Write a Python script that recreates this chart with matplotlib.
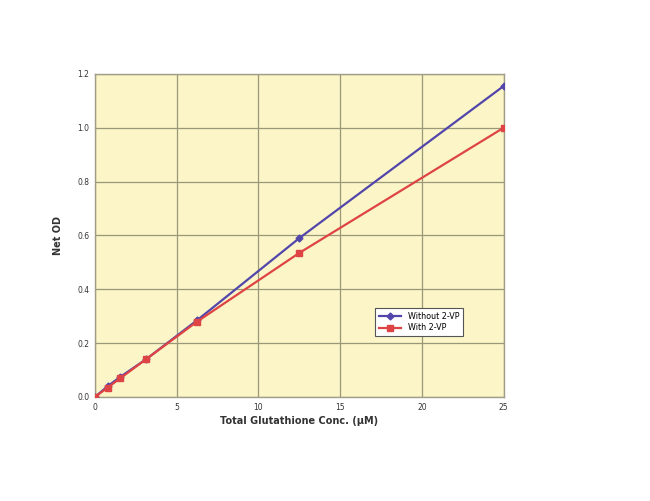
import matplotlib
matplotlib.use("Agg")
from matplotlib import pyplot as plt

# concentrations (uM) and net OD readings
conc = [0, 0.78, 1.56, 3.125, 6.25, 12.5, 25]
od_without_2vp = [0.0, 0.04, 0.075, 0.14, 0.285, 0.59, 1.155]
od_with_2vp = [0.0, 0.035, 0.07, 0.14, 0.28, 0.535, 1.0]

x_ticks = [0, 5, 10, 15, 20, 25]
y_ticks = [0.0, 0.2, 0.4, 0.6, 0.8, 1.0, 1.2]

fig = plt.figure(figsize=(6.5, 5.01), dpi=100)
ax = fig.add_axes([0.146, 0.2076, 0.629, 0.645])
ax.set_facecolor("#fbf5c8")

ax.plot(conc, od_without_2vp, color="#5246ab", lw=1.6, marker="D", ms=3.5,
        label="Without 2-VP", zorder=3)
ax.plot(conc, od_with_2vp, color="#df4444", lw=1.6, marker="s", ms=5,
        label="With 2-VP", zorder=4)

ax.set_xlim(0, 25)
ax.set_ylim(0, 1.2)
ax.set_xticks(x_ticks)
ax.set_xticklabels([str(t) for t in x_ticks])
ax.set_yticks(y_ticks)
ax.set_yticklabels(["%.1f" % t for t in y_ticks])
ax.grid(True, color="#9a9878", lw=0.9)
ax.set_axisbelow(True)
ax.tick_params(labelsize=5.5, colors="#333333", length=0, pad=4)
for s in ax.spines.values():
    s.set_color("#a09e88")
    s.set_linewidth(1.0)

ax.set_xlabel("Total Glutathione Conc. (\u03bcM)", fontsize=7, fontweight="bold",
              color="#333333", labelpad=3)
ax.set_ylabel("Net OD", fontsize=7, fontweight="bold", color="#333333", labelpad=10)

leg = ax.legend(loc="lower left", bbox_to_anchor=(0.675, 0.175), fontsize=5.8,
                frameon=True, fancybox=False, facecolor="white", edgecolor="#555555",
                framealpha=1.0, handlelength=2.8, borderpad=0.5, labelspacing=0.35)
leg.get_frame().set_linewidth(0.8)

fig.savefig("out.png", dpi=100, facecolor="white")
